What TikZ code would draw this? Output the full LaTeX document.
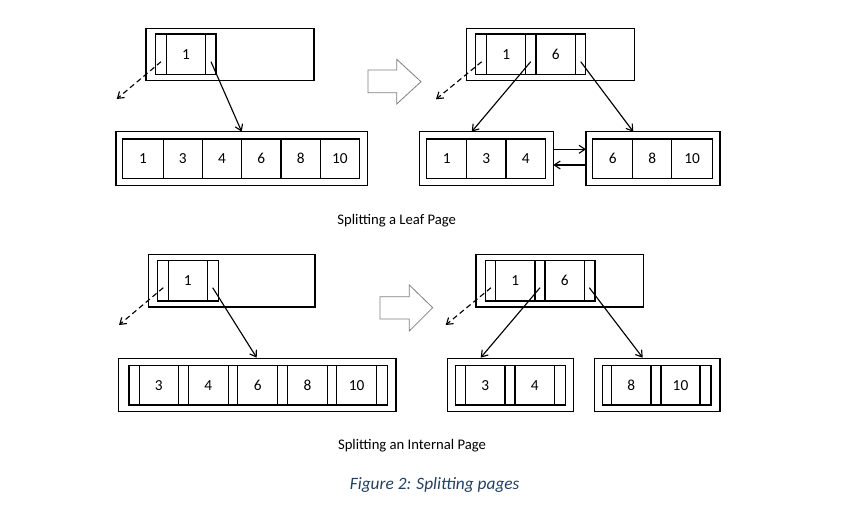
\documentclass[tikz,border=0pt]{standalone}
\usepackage{fontspec}
\setmainfont{Carlito}
\usetikzlibrary{arrows.meta,calc}
\definecolor{capblue}{RGB}{36,64,97}
\definecolor{hollowgray}{RGB}{128,128,128}
\tikzset{
  box/.style={draw, rectangle, inner sep=0pt, outer sep=0pt, line width=1pt,
    font=\fontsize{11.5}{13}\selectfont},
  ptrarrow/.style={line width=0.85pt, -{Straight Barb[length=4.5pt,width=6pt]}},
  dasharrow/.style={ptrarrow, dash pattern=on 4pt off 2.6pt},
  hollow/.style={draw=hollowgray, line width=0.6pt, fill=white},
  subcap/.style={font=\fontsize{11}{13}\selectfont},
  figcap/.style={font=\fontsize{13}{15}\selectfont\itshape, text=capblue}
}
\newcommand\bx[6]{\node[box, minimum width={(#4-#2)*0.75pt}, minimum height={(#5-#3)*0.75pt}] (#1) at ({(#2+#4)/2},{(#3+#5)/2}) {#6};}
\begin{document}
\begin{tikzpicture}[x=0.75pt,y=-0.75pt]
\useasboundingbox (0,0) rectangle (865,508);

% ===== Leaf split: before =====
\bx{A1}{146}{28.3}{314}{80.3}{}
\bx{A1p0}{155.7}{34}{166.3}{74.7}{}
\bx{A1k0}{166.3}{34}{205.7}{74.7}{1}
\bx{A1p1}{205.7}{34}{216}{74.7}{}
\bx{B1}{116}{131.7}{367.7}{185.3}{}
\bx{B1c1}{122.7}{139}{163.3}{178.3}{1}
\bx{B1c2}{163.3}{139}{202.3}{178.3}{3}
\bx{B1c3}{202.3}{139}{241.7}{178.3}{4}
\bx{B1c4}{241.7}{139}{281}{178.3}{6}
\bx{B1c5}{281}{139}{320.3}{178.3}{8}
\bx{B1c6}{320.3}{139}{359.3}{178.3}{10}
\coordinate (A1s0) at (161,61.7);
\coordinate (A1d0) at (116.7,99);
\coordinate (A1s1) at (211,61.7);
\coordinate (B1t) at (241.7,131.7);
\draw[dasharrow] (A1s0) -- (A1d0);
\draw[ptrarrow] (A1s1) -- (B1t);

% hollow arrow 1
\draw[hollow] (368,70) -- (396.7,70) -- (396.7,59.3) -- (421,81.7) -- (396.7,104) -- (396.7,92.7) -- (368,92.7) -- cycle;

% ===== Leaf split: after =====
\bx{A2}{466.7}{28.3}{634.3}{80.3}{}
\bx{A2p0}{475.7}{34}{486.7}{74.7}{}
\bx{A2k0}{486.7}{34}{525.7}{74.7}{1}
\bx{A2p1}{525.7}{34}{536}{74.7}{}
\bx{A2k1}{536}{34}{575.3}{74.7}{6}
\bx{A2p2}{575.3}{34}{585.3}{74.7}{}
\bx{L2}{419.3}{131.7}{553.3}{185.3}{}
\bx{L2c1}{426.7}{139}{466.7}{178.3}{1}
\bx{L2c2}{466.7}{139}{506}{178.3}{3}
\bx{L2c3}{506}{139}{545.7}{178.3}{4}
\bx{R2}{586}{131.7}{720}{185.3}{}
\bx{R2c1}{592.7}{139}{632.7}{178.3}{6}
\bx{R2c2}{632.7}{139}{671.7}{178.3}{8}
\bx{R2c3}{671.7}{139}{712.7}{178.3}{10}
\coordinate (A2s0) at (481.7,61.7);
\coordinate (A2d0) at (436,99.3);
\coordinate (A2s1) at (530.7,61.7);
\coordinate (L2t) at (471.7,131.7);
\coordinate (A2s2) at (580.7,61.7);
\coordinate (R2t) at (633.3,131.7);
\draw[dasharrow] (A2s0) -- (A2d0);
\draw[ptrarrow] (A2s1) -- (L2t);
\draw[ptrarrow] (A2s2) -- (R2t);
\draw[ptrarrow] ($(L2.east)+(0,-9.2)$) -- ($(R2.west)+(0,-9.2)$);
\draw[ptrarrow] ($(R2.west)+(0,6.5)$) -- ($(L2.east)+(0,6.5)$);

\node[subcap] (cap1) at (396.7,221) {Splitting a Leaf Page};

% ===== Internal split: before =====
\bx{A3}{148.7}{254.3}{315}{307}{}
\bx{A3p0}{157.7}{260.7}{168.3}{301}{}
\bx{A3k0}{168.3}{260.7}{207.3}{301}{1}
\bx{A3p1}{207.3}{260.7}{218.3}{301}{}
\bx{B3}{118.3}{358.3}{396}{411.7}{}
\bx{B3p0}{129}{365.7}{139.3}{405}{}
\bx{B3k0}{139.3}{365.7}{178.3}{405}{3}
\bx{B3p1}{178.3}{365.7}{188.3}{405}{}
\bx{B3k1}{188.3}{365.7}{228.3}{405}{4}
\bx{B3p2}{228.3}{365.7}{237.7}{405}{}
\bx{B3k2}{237.7}{365.7}{277.7}{405}{6}
\bx{B3p3}{277.7}{365.7}{287.7}{405}{}
\bx{B3k3}{287.7}{365.7}{327.3}{405}{8}
\bx{B3p4}{327.3}{365.7}{336.7}{405}{}
\bx{B3k4}{336.7}{365.7}{376.7}{405}{10}
\bx{B3p5}{376.7}{365.7}{387.3}{405}{}
\coordinate (A3s0) at (163.3,287.7);
\coordinate (A3d0) at (119,325);
\coordinate (A3s1) at (212.7,287.7);
\coordinate (B3t) at (256.7,357.7);
\draw[dasharrow] (A3s0) -- (A3d0);
\draw[ptrarrow] (A3s1) -- (B3t);

% hollow arrow 2
\draw[hollow] (380,296.7) -- (409.3,296.7) -- (409.3,285) -- (432.7,307.7) -- (409.3,331) -- (409.3,319) -- (380,319) -- cycle;

% ===== Internal split: after =====
\bx{A4}{476}{254.3}{643.7}{307}{}
\bx{A4p0}{485.7}{260.7}{495.7}{301}{}
\bx{A4k0}{495.7}{260.7}{535}{301}{1}
\bx{A4p1}{535}{260.7}{545}{301}{}
\bx{A4k1}{545}{260.7}{584.3}{301}{6}
\bx{A4p2}{584.3}{260.7}{595}{301}{}
\bx{L4}{447.7}{358.3}{573.3}{411.7}{}
\bx{L4p0}{455.7}{365.7}{465.7}{405}{}
\bx{L4k0}{465.7}{365.7}{505}{405}{3}
\bx{L4p1}{505}{365.7}{515}{405}{}
\bx{L4k1}{515}{365.7}{554.3}{405}{4}
\bx{L4p2}{554.3}{365.7}{565.7}{405}{}
\bx{R4}{594.3}{358.3}{720}{411.7}{}
\bx{R4p0}{602.3}{365.7}{611.7}{405}{}
\bx{R4k0}{611.7}{365.7}{651}{405}{8}
\bx{R4p1}{651}{365.7}{661}{405}{}
\bx{R4k1}{661}{365.7}{700}{405}{10}
\bx{R4p2}{700}{365.7}{711}{405}{}
\coordinate (A4s0) at (491,287.7);
\coordinate (A4d0) at (445.7,325);
\coordinate (A4s1) at (540,287.7);
\coordinate (L4t) at (480.7,357.7);
\coordinate (A4s2) at (589.3,287.7);
\coordinate (R4t) at (642.7,357.7);
\draw[dasharrow] (A4s0) -- (A4d0);
\draw[ptrarrow] (A4s1) -- (L4t);
\draw[ptrarrow] (A4s2) -- (R4t);

\node[subcap] (cap2) at (412,446) {Splitting an Internal Page};
\node[figcap] (cap3) at (434.7,485) {Figure 2: Splitting pages};
\end{tikzpicture}
\end{document}
